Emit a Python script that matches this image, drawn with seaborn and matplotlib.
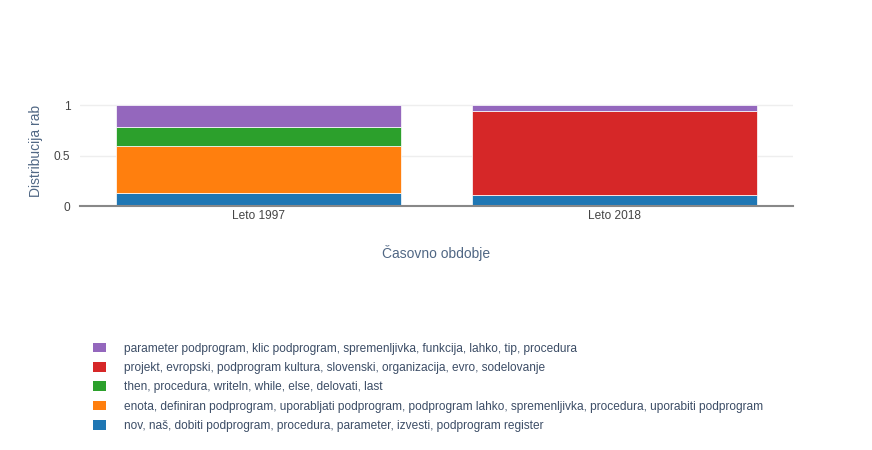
import matplotlib.pyplot as plt
import seaborn as sns
import pandas as pd
from matplotlib.patches import Patch

periods = ["Leto 1997", "Leto 2018"]

topics = [
    "parameter podprogram, klic podprogram, spremenljivka, funkcija, lahko, tip, procedura",
    "projekt, evropski, podprogram kultura, slovenski, organizacija, evro, sodelovanje",
    "then, procedura, writeln, while, else, delovati, last",
    "enota, definiran podprogram, uporabljati podprogram, podprogram lahko, spremenljivka, procedura, uporabiti podprogram",
    "nov, naš, dobiti podprogram, procedura, parameter, izvesti, podprogram register",
]
colors = ["#9467bd", "#d62728", "#2ca02c", "#ff7f0e", "#1f77b4"]

# share of each topic per period (same order as topics)
share_1997 = [0.22, 0.0, 0.18, 0.47, 0.13]
share_2018 = [0.06, 0.83, 0.0, 0.0, 0.11]

rows = []
for topic, a, b in zip(topics, share_1997, share_2018):
    rows.append({"period": periods[0], "topic": topic, "share": a})
    rows.append({"period": periods[1], "topic": topic, "share": b})
df = pd.DataFrame(rows)

sns.set_theme(style="white")
plt.rcParams["font.family"] = ["Liberation Sans", "DejaVu Sans"]

text_col = "#506784"

fig = plt.figure(figsize=(8.72, 4.5), dpi=100)
ax = fig.add_axes([80 / 872, 1 - 206 / 450, 713 / 872, 106 / 450])

# last hue level ends up at the bottom of the stack
sns.histplot(
    data=df, x="period", weights="share", hue="topic", hue_order=topics,
    palette=colors, multiple="stack", discrete=True, shrink=0.8,
    alpha=1, edgecolor="white", linewidth=0.5, legend=False, ax=ax,
)

ax.set_xlim(-0.5, 1.5)
ax.set_ylim(0, 1.0526)
ax.set_yticks([0, 0.5, 1])
ax.set_yticklabels(["0", "0.5", "1"])
ax.yaxis.grid(True, color="#eeeeee", linewidth=1)
ax.set_axisbelow(True)
for s in ["top", "right", "left"]:
    ax.spines[s].set_visible(False)
ax.spines["bottom"].set_color("#888888")
ax.spines["bottom"].set_linewidth(1.5)
ax.tick_params(axis="both", length=0, labelsize=8.6, colors="#444444")
ax.tick_params(axis="x", pad=3)
ax.tick_params(axis="y", pad=7)

ax.set_xlabel("Časovno obdobje", fontsize=10, color=text_col)
ax.set_ylabel("Distribucija rab", fontsize=10, color=text_col)
ax.xaxis.set_label_coords(0.5, -0.37)
ax.yaxis.set_label_coords(-0.052, 0.52)

handles = [Patch(facecolor=c, edgecolor="none") for c in colors]
fig.legend(
    handles, topics, loc="upper left", bbox_to_anchor=(82 / 872, 1 - 332 / 450),
    frameon=False, fontsize=8.6, handlelength=1.1, handleheight=0.85,
    handletextpad=1.5, labelspacing=0.61, labelcolor="#3c4d66",
)

fig.savefig("out.png", dpi=100)
